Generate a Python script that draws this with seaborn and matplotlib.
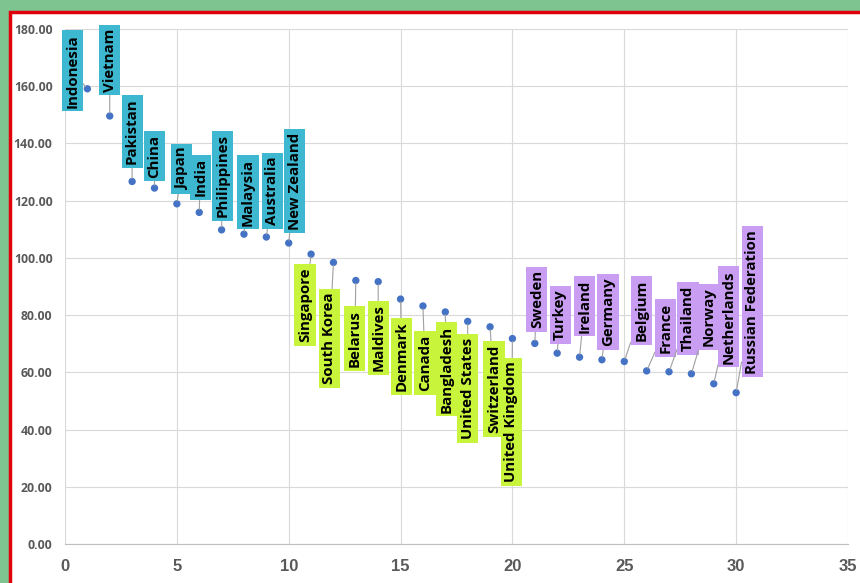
import numpy as np
import pandas as pd
import seaborn as sns
import matplotlib.pyplot as plt
from matplotlib.patches import Rectangle

# data
rank = list(range(1, 31))
values = [159.1, 149.6, 126.7, 124.4, 118.9, 115.9, 109.8, 108.3, 107.3, 105.2,
          101.3, 98.4, 92.1, 91.7, 85.6, 83.2, 81.1, 77.8, 75.9, 71.8,
          70.1, 66.7, 65.3, 64.4, 63.8, 60.5, 60.2, 59.5, 56.0, 52.9]
countries = ["Indonesia", "Vietnam", "Pakistan", "China", "Japan", "India",
             "Philippines", "Malaysia", "Australia", "New Zealand",
             "Singapore", "South Korea", "Belarus", "Maldives", "Denmark",
             "Canada", "Bangladesh", "United States", "Switzerland", "United Kingdom",
             "Sweden", "Turkey", "Ireland", "Germany", "Belgium",
             "France", "Thailand", "Norway", "Netherlands", "Russian Federation"]
group = [0] * 10 + [1] * 10 + [2] * 10

df = pd.DataFrame({"rank": rank, "value": values, "country": countries, "group": group})

# label placement (pixel offsets of the box centre from the point)
label_dx = [-15, 0, 0, 0, 5, 1, 1, 4, 6, 6,
            -6, -4, -1, 0, 1, 2, 1, 0, 4, -1,
            2, 3, 5, 6, 17, 19, 19, 17, 15, 16]
label_dy = [18, 56, 50, 32, 35, 35, 54, 42, 46, 62,
            -51, -76, -58, -56, -57, -57, -57, -67, -62, -83,
            44, 38, 51, 48, 51, 43, 53, 57, 67, 91]
box_colors = ["#3db8d0", "#c8f53c", "#c99df2"]

sns.set_style("white")
plt.rcParams['font.family'] = ['Open Sans', 'DejaVu Sans']

fig = plt.figure(figsize=(8.6, 5.83), dpi=100)
fig.patch.set_facecolor("#7dc491")
fig.patches.append(Rectangle((10 / 860, -0.05), 1.2, 1 - 12.5 / 583 + 0.05,
                             transform=fig.transFigure, facecolor="white",
                             edgecolor="#e0000b", linewidth=2.5, zorder=-5))

ax = fig.add_axes([65 / 860, 39 / 583, 783 / 860, 515 / 583])
ax.set_facecolor("white")
ax.patch.set_alpha(0)

sns.scatterplot(data=df, x="rank", y="value", ax=ax, color="#4472c4",
                s=28, edgecolor="none", zorder=3)

for i, row in df.iterrows():
    ax.annotate(row["country"], xy=(row["rank"], row["value"]),
                xytext=(label_dx[i], label_dy[i]), textcoords="offset pixels",
                rotation=90, ha="center", va="center", fontsize=10.8,
                fontweight="bold", color="black", zorder=4,
                bbox=dict(boxstyle="square,pad=0.24", fc=box_colors[row["group"]],
                          ec="none"),
                arrowprops=dict(arrowstyle="-", color="#a0a0a0", lw=0.8,
                                shrinkA=0, shrinkB=2))

ax.set_xlim(0, 35)
ax.set_ylim(0, 180)
ax.set_xticks(range(0, 36, 5))
ax.set_yticks(range(0, 181, 20))
ax.set_yticklabels([f"{v:.2f}" for v in range(0, 181, 20)])
ax.grid(True, color="#d9d9d9", linewidth=0.8)
ax.set_axisbelow(True)
for s in ["top", "right", "left"]:
    ax.spines[s].set_visible(False)
ax.spines["bottom"].set_color("#bfbfbf")
ax.tick_params(length=0)
ax.tick_params(axis="y", pad=9, labelsize=8.8, labelcolor="#595959")
ax.tick_params(axis="x", pad=11, labelsize=12, labelcolor="#595959")
for t in ax.get_yticklabels():
    t.set_fontweight("bold")
for t in ax.get_xticklabels():
    t.set_fontweight("bold")
    t.set_family(["Liberation Sans", "DejaVu Sans"])
ax.set_xlabel("")
ax.set_ylabel("")

fig.savefig("out.png", dpi=100, facecolor=fig.get_facecolor())
